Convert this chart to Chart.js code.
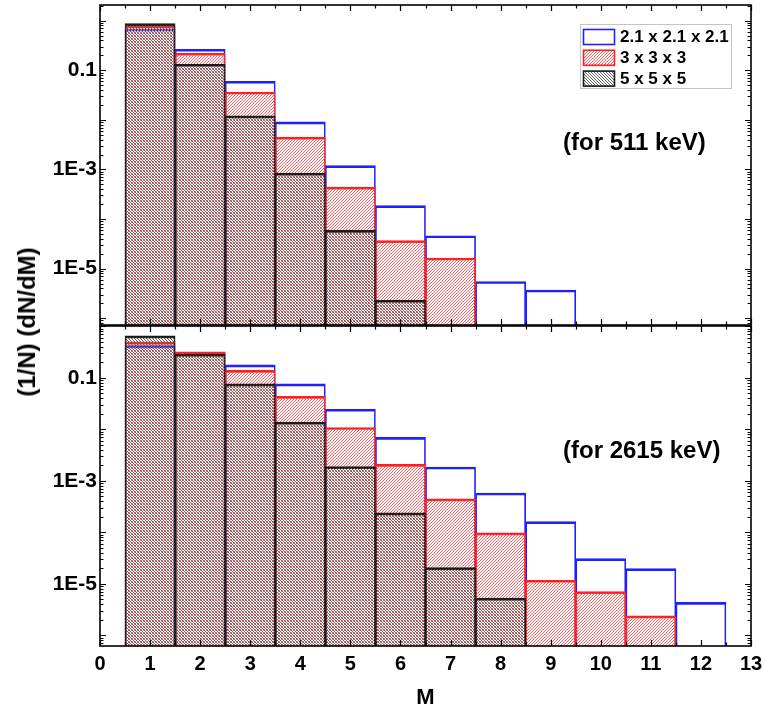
<!DOCTYPE html>
<html><head><meta charset="utf-8">
<script src="https://cdn.jsdelivr.net/npm/chart.js@4.4.0/dist/chart.umd.min.js"></script>
<style>
html,body{margin:0;padding:0;background:#fff;}
#wrap{position:relative;width:764px;height:712px;overflow:hidden;font-family:'Liberation Sans',Arial,sans-serif;}
canvas{position:absolute;left:0;top:0;}
.ann{position:absolute;font-weight:bold;font-size:24px;line-height:24px;white-space:nowrap;color:#000;}
#ytitle{position:absolute;left:27px;top:322px;transform:translate(-50%,-50%) rotate(-90deg);font-weight:bold;font-size:24px;line-height:24px;white-space:nowrap;color:#000;}
</style></head><body>
<div id="wrap">
<canvas id="cTop" width="764" height="330"></canvas>
<canvas id="cBot" width="764" height="712"></canvas>
<div id="ytitle">(1/N) (dN/dM)</div>
<div class="ann" style="left:563px;top:130px">(for 511 keV)</div>
<div class="ann" style="left:563px;top:438px">(for 2615 keV)</div>
</div>
<script>
// ---- data ----
const M = [1,2,3,4,5,6,7,8,9,10,11,12];
const seriesNames = ['2.1 x 2.1 x 2.1', '3 x 3 x 3', '5 x 5 x 5'];
// 511 keV panel
const e511_21 = [0.68, 0.265, 0.060, 0.0091, 1.19e-3, 1.86e-4, 4.6e-5, 5.5e-6, 3.7e-6];
const e511_3  = [0.78, 0.22, 0.0365, 0.00446, 4.4e-4, 3.67e-5, 1.64e-5];
const e511_5  = [0.87, 0.132, 0.012, 8.4e-4, 5.9e-5, 2.3e-6];
// 2615 keV panel
const e2615_21 = [0.425, 0.315, 0.18, 0.0765, 0.0247, 7.0e-3, 1.87e-3, 5.85e-4, 1.62e-4, 3.1e-5, 1.98e-5, 4.4e-6];
const e2615_3  = [0.50, 0.32, 0.14, 0.044, 0.0109, 2.1e-3, 4.5e-4, 9.8e-5, 1.18e-5, 7.1e-6, 2.4e-6];
const e2615_5  = [0.655, 0.29, 0.0765, 0.0138, 1.9e-3, 2.4e-4, 2.07e-5, 5.3e-6];
const xTickValues = [0,1,2,3,4,5,6,7,8,9,10,11,12,13];
const yTickValues = [1e-5, 1e-3, 0.1];
const yTickLabels = ['1E-5', '1E-3', '0.1'];

const FONT = "'Liberation Sans', Arial, sans-serif";
const BLUE = '#1f1fff', RED = '#ff1f1f', BLACK = '#1a1a1a';
const RED_HATCH = 'rgb(250,100,100)', BLK_HATCH = 'rgb(100,100,100)';

function makePattern(ctx, color, dir, period) {
  const c = document.createElement('canvas');
  c.width = period; c.height = period;
  const g = c.getContext('2d');
  g.fillStyle = color;
  for (let x = 0; x < period; x++) {
    const y = dir === '/' ? (period - 1 - x) : x;
    g.fillRect(x, y, 1, 1);
  }
  return ctx.createPattern(c, 'repeat');
}

function pts(vals) { return vals.map((v, i) => ({x: M[i], y: v})); }

function datasets(ctx, b21, b3, b5) {
  const redPat = makePattern(ctx, RED_HATCH, '/', 3);
  const blkPat = makePattern(ctx, BLK_HATCH, '\\', 3);
  const common = {barPercentage: 1, categoryPercentage: 1, grouped: false,
    borderWidth: {top: 2, left: 1, right: 1, bottom: 0}, borderSkipped: 'start'};
  return [
    Object.assign({label: seriesNames[2], data: pts(b5), backgroundColor: blkPat, borderColor: BLACK}, common),
    Object.assign({label: seriesNames[1], data: pts(b3), backgroundColor: redPat, borderColor: RED}, common),
    Object.assign({label: seriesNames[0], data: pts(b21), backgroundColor: 'rgba(0,0,0,0)', borderColor: BLUE}, common)
  ];
}

const framePlugin = {
  id: 'frame',
  afterDatasetsDraw(chart) {
    const {ctx, chartArea: a, scales} = chart;
    const xs = scales.x, ys = scales.y;
    ctx.save();
    ctx.strokeStyle = '#000';
    ctx.lineWidth = 1.2;
    ctx.beginPath();
    for (let v = xs.min; v <= xs.max; v += 0.5) {
      const px = Math.round(xs.getPixelForValue(v)) + 0.5;
      const L = Number.isInteger(v) ? 6 : 3.5;
      ctx.moveTo(px, a.bottom); ctx.lineTo(px, a.bottom - L);
      ctx.moveTo(px, a.top); ctx.lineTo(px, a.top + L);
    }
    const minE = Math.floor(Math.log10(ys.min)), maxE = Math.ceil(Math.log10(ys.max));
    for (let e = minE; e <= maxE; e++) {
      for (let k = 1; k <= 9; k++) {
        const v = k * Math.pow(10, e);
        if (v < ys.min || v > ys.max) continue;
        const py = Math.round(ys.getPixelForValue(v)) + 0.5;
        const L = k === 1 ? 6 : 3.5;
        ctx.moveTo(a.left, py); ctx.lineTo(a.left + L, py);
        ctx.moveTo(a.right, py); ctx.lineTo(a.right - L, py);
      }
    }
    ctx.stroke();
    ctx.lineWidth = 1.6;
    ctx.strokeRect(a.left, a.top, a.right - a.left, a.bottom - a.top);
    ctx.restore();
  }
};

const legendPlugin = {
  id: 'boxLegend',
  afterDatasetsDraw(chart) {
    const {ctx, chartArea: a} = chart;
    const redPat = makePattern(ctx, RED_HATCH, '/', 3);
    const blkPat = makePattern(ctx, BLK_HATCH, '\\', 3);
    const x0 = a.right - 170.5, y0 = 24.5;
    ctx.save();
    ctx.fillStyle = '#fff';
    ctx.fillRect(x0, y0, 151, 64);
    ctx.strokeStyle = '#c4c4c4'; ctx.lineWidth = 1;
    ctx.strokeRect(x0, y0, 151, 64);
    const fills = ['#fff', redPat, blkPat];
    const strokes = [BLUE, RED, BLACK];
    for (let i = 0; i < 3; i++) {
      const py = 29 + i * 20.8;
      ctx.fillStyle = fills[i];
      ctx.fillRect(x0 + 2.5, py, 32, 16);
      ctx.strokeStyle = strokes[i]; ctx.lineWidth = 1.6;
      ctx.strokeRect(x0 + 3, py + 0.5, 31, 15);
      ctx.fillStyle = '#000';
      ctx.font = 'bold 17px ' + FONT;
      ctx.textBaseline = 'middle';
      ctx.textAlign = 'left';
      ctx.fillText(seriesNames[i], x0 + 39.5, py + 8.5);
    }
    ctx.restore();
  }
};

function yAxis(min, max) {
  return {
    type: 'logarithmic', min: min, max: max,
    grid: {display: false, drawTicks: false}, border: {display: false},
    afterBuildTicks: s => { s.ticks = yTickValues.map(v => ({value: v})); },
    afterFit: s => { s.width = 100; s.paddingTop = 0; s.paddingBottom = 0; },
    ticks: {color: '#000', padding: 3, font: {family: FONT, size: 21, weight: 'bold'},
      callback: v => yTickLabels[yTickValues.indexOf(v)]}
  };
}

Chart.defaults.animation = false;

const ctxTop = document.getElementById('cTop').getContext('2d');
new Chart(ctxTop, {
  type: 'bar',
  data: {datasets: datasets(ctxTop, e511_21, e511_3, e511_5)},
  options: {
    responsive: false, animation: false,
    layout: {padding: {top: 5, right: 13, bottom: 5, left: 0}},
    plugins: {legend: {display: false}, tooltip: {enabled: false}},
    scales: {
      x: {type: 'linear', min: 0, max: 13, offset: false, display: false},
      y: yAxis(7.3e-7, 2.07)
    }
  },
  plugins: [framePlugin, legendPlugin]
});

const ctxBot = document.getElementById('cBot').getContext('2d');
new Chart(ctxBot, {
  type: 'bar',
  data: {datasets: datasets(ctxBot, e2615_21, e2615_3, e2615_5)},
  options: {
    responsive: false, animation: false,
    layout: {padding: {top: 326, right: 13, bottom: 0, left: 0}},
    plugins: {legend: {display: false}, tooltip: {enabled: false}},
    scales: {
      x: {type: 'linear', min: 0, max: 13, offset: false,
        grid: {display: false, drawTicks: false}, border: {display: false},
        afterBuildTicks: s => { s.ticks = xTickValues.map(v => ({value: v})); },
        afterFit: s => { s.height = 66; s.paddingLeft = 0; s.paddingRight = 0; },
        ticks: {color: '#000', padding: 6, autoSkip: false, maxRotation: 0,
          font: {family: FONT, size: 20, weight: 'bold'}, callback: v => String(v)},
        title: {display: true, text: 'M', color: '#000', padding: {top: 0, bottom: 1},
          font: {family: FONT, size: 22, weight: 'bold'}}
      },
      y: yAxis(6.25e-7, 1.02)
    }
  },
  plugins: [framePlugin]
});
</script>
</body></html>
